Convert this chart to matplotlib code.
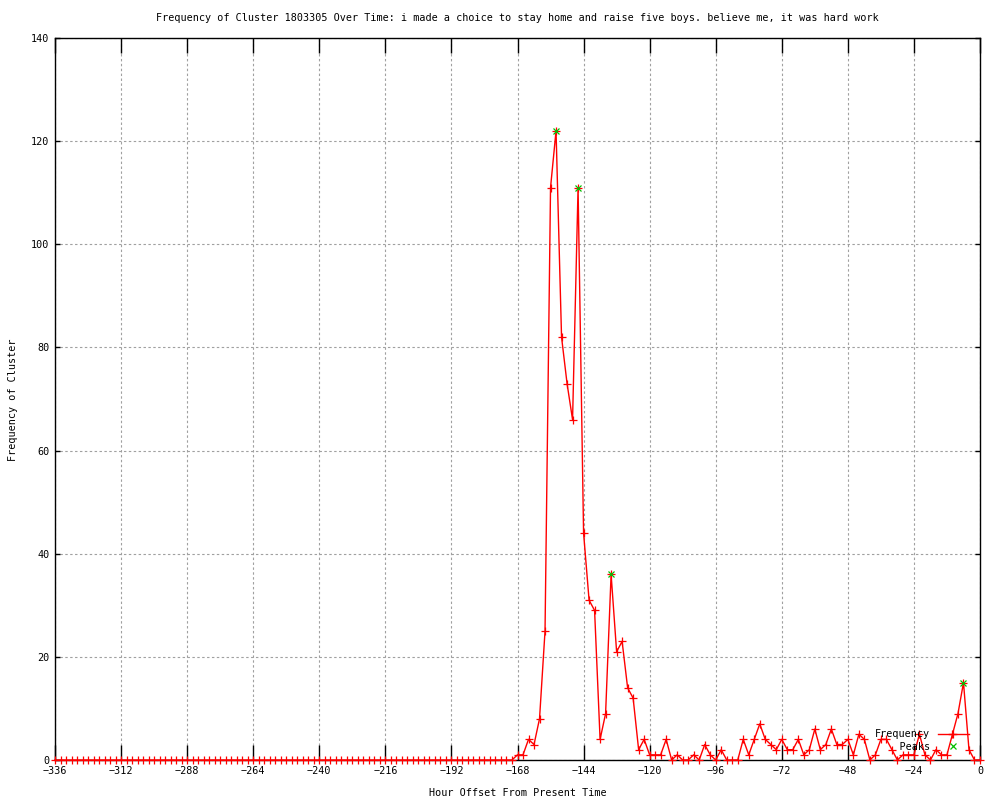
import matplotlib
matplotlib.use("Agg")
import matplotlib.pyplot as plt
import numpy as np

# ---- data ----
hours = list(range(-336, 1, 2))
leading_zeros = [0, 0, 0, 0, 0, 0, 0, 0, 0, 0,
                 0, 0, 0, 0, 0, 0, 0, 0, 0, 0,
                 0, 0, 0, 0, 0, 0, 0, 0, 0, 0,
                 0, 0, 0, 0, 0, 0, 0, 0, 0, 0,
                 0, 0, 0, 0, 0, 0, 0, 0, 0, 0,
                 0, 0, 0, 0, 0, 0, 0, 0, 0, 0,
                 0, 0, 0, 0, 0, 0, 0, 0, 0, 0,
                 0, 0, 0, 0, 0, 0, 0, 0, 0, 0,
                 0, 0, 0]  # -336 .. -172
recent_values = [0, 1, 1, 4, 3, 8, 25, 111, 122, 82,      # -170 .. -152
                 73, 66, 111, 44, 31, 29, 4, 9, 36, 21,   # -150 .. -132
                 23, 14, 12, 2, 4, 1, 1, 1, 4, 0,         # -130 .. -112
                 1, 0, 0, 1, 0, 3, 1, 0, 2, 0,            # -110 .. -92
                 0, 0, 4, 1, 4, 7, 4, 3, 2, 4,            # -90 .. -72
                 2, 2, 4, 1, 2, 6, 2, 3, 6, 3,            # -70 .. -52
                 3, 4, 1, 5, 4, 0, 1, 4, 4, 2,            # -50 .. -32
                 0, 1, 1, 1, 5, 1, 0, 2, 1, 1,            # -30 .. -12
                 5, 9, 15, 2, 0, 0]                       # -10 .. 0
frequency = leading_zeros + recent_values

peak_hours = [-154, -146, -134, -6]
peak_values = [122, 111, 36, 15]

x_ticks = list(range(-336, 1, 24))
y_ticks = list(range(0, 141, 20))

title = ("Frequency of Cluster 1803305 Over Time: i made a choice to stay home "
         "and raise five boys. believe me, it was hard work")

# ---- style ----
FONT = "DejaVu Sans Mono"
FS = 7.3
plt.rcParams["font.family"] = [FONT, "DejaVu Sans"]
plt.rcParams["font.size"] = FS

fig = plt.figure(figsize=(10, 8), dpi=100)
W, H = 1000, 800
left, right, top, bottom = 55, 980, 38, 760
ax = fig.add_axes([left / W, 1 - bottom / H, (right - left) / W, (bottom - top) / H])

red = "#ff0000"
green = "#00c000"

ax.plot(hours, frequency, color=red, lw=1.0, marker="+", ms=6.3, mew=0.9,
        clip_on=False, zorder=3, label="Frequency")
ax.plot(peak_hours, peak_values, color=green, lw=0, marker="x", ms=5.0, mew=0.9,
        clip_on=False, zorder=4, label="    Peaks")

ax.set_xlim(-336, 0)
ax.set_ylim(0, 140)
ax.set_xticks(x_ticks)
ax.set_yticks(y_ticks)

ax.grid(True, color="#a0a0a0", lw=0.8, linestyle=(0, (2.2, 2.2)))
ax.set_axisbelow(True)

ax.tick_params(axis="x", direction="in", length=10.8, width=1, top=True,
               labelsize=FS, pad=4, colors="black")
ax.tick_params(axis="y", direction="in", length=3.6, width=1, right=True,
               labelsize=FS, pad=4, colors="black")
for sp in ax.spines.values():
    sp.set_linewidth(1)
    sp.set_color("black")

fig.text((left + right) / 2 / W, 1 - 18 / H, title, ha="center", va="center",
         fontsize=FS, family=FONT)
fig.text((left + right) / 2 / W, 1 - 793 / H, "Hour Offset From Present Time",
         ha="center", va="center", fontsize=FS, family=FONT)
fig.text(13 / W, 1 - 400 / H, "Frequency of Cluster", ha="center", va="center",
         rotation=90, fontsize=FS, family=FONT)

leg = ax.legend(loc="lower right", bbox_to_anchor=(969 / W, 1 - 752 / H),
                bbox_transform=fig.transFigure, frameon=False, markerfirst=False,
                handlelength=3.1, handletextpad=0.7, labelspacing=0.25,
                borderpad=0, borderaxespad=0, numpoints=1,
                prop={"family": FONT, "size": FS})

fig.savefig("out.png", dpi=100)
